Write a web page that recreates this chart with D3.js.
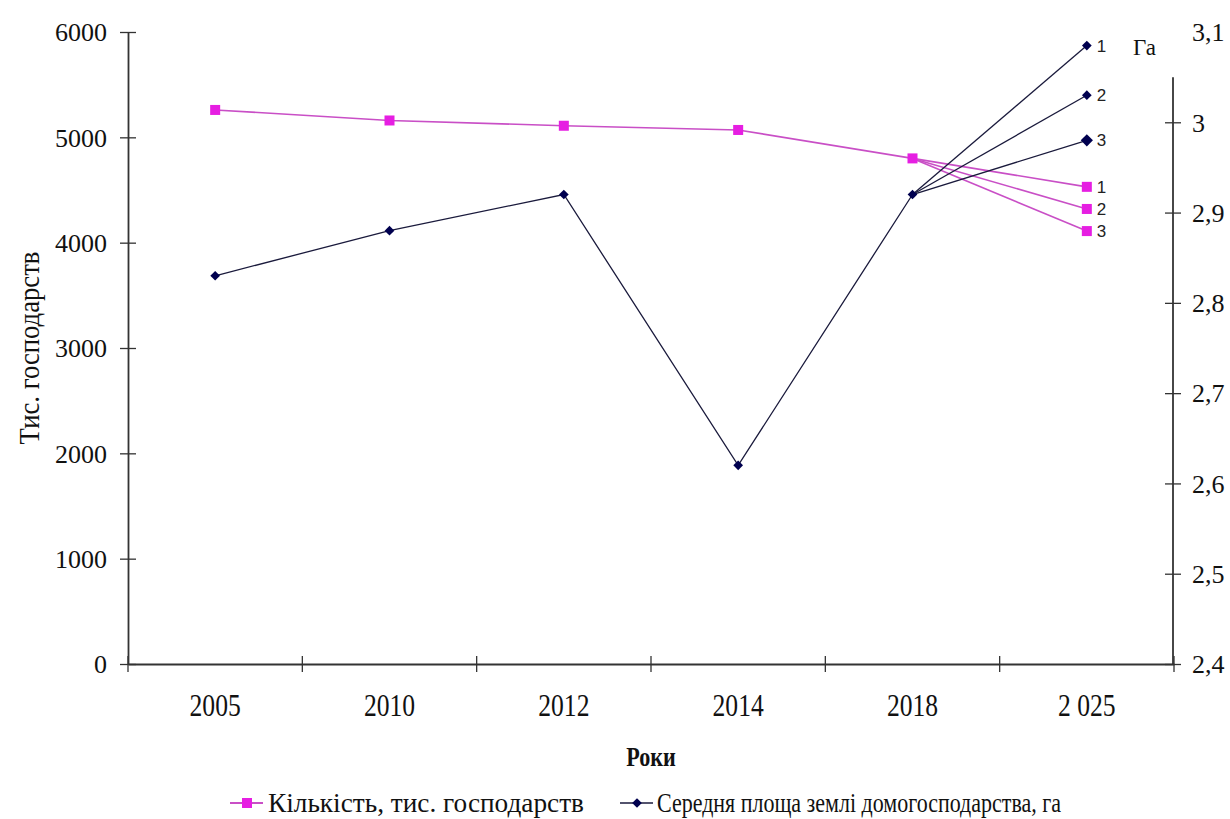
<!DOCTYPE html>
<html><head><meta charset="utf-8">
<script src="https://cdn.jsdelivr.net/npm/d3@7"></script>
<style>
body{margin:0;background:#fff;}
svg{display:block;}
</style></head>
<body>
<svg id="c" width="1230" height="819"></svg>
<script>
// ---- data ----
const years = ["2005","2010","2012","2014","2018","2 025"];
const households = [5260,5160,5110,5070,4800];          // 2005..2018, тис.
const households2025 = [4530,4320,4110];                // scenarios 1,2,3
const area = [2.83,2.88,2.92,2.62,2.92];                 // 2005..2018, га
const area2025 = [3.085,3.03,2.98];                      // scenarios 1,2,3
const scenarioLabels = ["1","2","3"];
const leftTicks = [0,1000,2000,3000,4000,5000,6000];
const rightTicks = [2.4,2.5,2.6,2.7,2.8,2.9,3.0,3.1];

const SERIF = '"Liberation Serif","Times New Roman",serif';
const SANS = '"Liberation Sans",Arial,sans-serif';
const svg = d3.select("#c");
const L = 128, R = 1174, T = 32, B = 664, RX = 1173;
const x = d3.scaleBand().domain(years).range([L,R]);
const cx = d => x(d) + x.bandwidth()/2;
const yL = d3.scaleLinear().domain([0,6000]).range([B,T]);
const yR = d3.scaleLinear().domain([2.4,3.1]).range([B,T]);

const pinkLine = "#c94fc6", pinkMark = "#e61ee2";
const navyLine = "#1a1a3c", navyMark = "#00004f";
const axisCol = "#333";

// x axis
const gx = svg.append("g").attr("transform",`translate(0,${B})`)
  .call(d3.axisBottom(x).tickSize(0).tickFormat(""));
gx.attr("font-family",null);
gx.select(".domain").attr("stroke",axisCol).attr("stroke-width",1.8);
const bounds = years.map(d=>x(d)).concat([R]);
gx.selectAll(".xt").data(bounds).enter().append("line")
  .attr("x1",d=>d).attr("x2",d=>d).attr("y1",-8).attr("y2",8)
  .attr("stroke",axisCol).attr("stroke-width",1.3);
gx.selectAll(".xl").data(years).enter().append("text")
  .attr("transform",d=>`translate(${cx(d)},52) scale(0.8,1)`)
  .attr("text-anchor","middle").style("font-family",SERIF).attr("font-size",32)
  .attr("fill","#111").text(d=>d);

// left axis
const gl = svg.append("g").attr("transform",`translate(${L},0)`)
  .call(d3.axisLeft(yL).tickValues(leftTicks).tickSize(0).tickFormat(d3.format("d")));
gl.attr("font-family",null);
gl.select(".domain").attr("stroke",axisCol).attr("stroke-width",1.8);
gl.selectAll(".tick line").attr("x1",-8).attr("x2",8).attr("stroke",axisCol).attr("stroke-width",1.3);
gl.selectAll(".tick text").attr("x",-21).attr("dy","0.34em").style("font-family",SERIF)
  .attr("font-size",26).attr("fill","#111");

// right axis
const gr = svg.append("g").attr("transform",`translate(${RX},0)`)
  .call(d3.axisRight(yR).tickValues(rightTicks).tickSize(0)
    .tickFormat(d => (Math.round(d*10)/10).toString().replace(".",",")));
gr.attr("font-family",null);
gr.select(".domain").attr("d",`M0,${yR(3.05)}V${B}`).attr("stroke",axisCol).attr("stroke-width",1.8);
gr.selectAll(".tick line").attr("x1",d=>d>3.05?0:-8).attr("x2",d=>d>3.05?0:8)
  .attr("stroke",axisCol).attr("stroke-width",1.3);
gr.selectAll(".tick text").attr("x",19).attr("dy","0.34em").style("font-family",SERIF)
  .attr("font-size",26).attr("fill","#111");

// titles
svg.append("text").attr("transform","translate(39,348) rotate(-90) scale(0.92,1)")
  .attr("text-anchor","middle").style("font-family",SERIF).attr("font-size",29)
  .attr("fill","#111").text("Тис. господарств");
svg.append("text").attr("transform",`translate(${(L+R)/2},757) scale(0.82,1)`).attr("dy","0.35em")
  .attr("text-anchor","middle").style("font-family",SERIF).attr("font-size",27).attr("font-weight","bold")
  .attr("fill","#111").text("Роки");
svg.append("text").attr("x",1133).attr("y",55).style("font-family",SERIF).attr("font-size",23)
  .attr("fill","#111").text("Га");

const main = years.slice(0,5);
const line = d3.line();

// pink series
svg.append("path").attr("fill","none").attr("stroke",pinkLine).attr("stroke-width",1.6)
  .attr("d",line(main.map((d,i)=>[cx(d),yL(households[i])])));
households2025.forEach(v=>{
  svg.append("path").attr("fill","none").attr("stroke",pinkLine).attr("stroke-width",1.6)
    .attr("d",line([[cx(main[4]),yL(households[4])],[cx(years[5]),yL(v)]]));
});
// navy series
svg.append("path").attr("fill","none").attr("stroke",navyLine).attr("stroke-width",1.3)
  .attr("d",line(main.map((d,i)=>[cx(d),yR(area[i])])));
area2025.forEach(v=>{
  svg.append("path").attr("fill","none").attr("stroke",navyLine).attr("stroke-width",1.3)
    .attr("d",line([[cx(main[4]),yR(area[4])],[cx(years[5]),yR(v)]]));
});

// markers
const sq = (g,xx,yy,c)=>g.append("rect").attr("x",xx-5).attr("y",yy-5).attr("width",10).attr("height",10).attr("fill",c);
const dia = (g,xx,yy,c,s)=>g.append("path").attr("d",d3.symbol(d3.symbolDiamond2,s||60)()).attr("transform",`translate(${xx},${yy})`).attr("fill",c);
main.forEach((d,i)=>{ sq(svg,cx(d),yL(households[i]),pinkMark); });
households2025.forEach(v=>sq(svg,cx(years[5]),yL(v),pinkMark));
main.forEach((d,i)=>{ dia(svg,cx(d),yR(area[i]),navyMark); });
area2025.forEach((v,i)=>dia(svg,cx(years[5]),yR(v),navyMark,i===2?95:60));

// scenario labels
const lab = (xx,yy,t)=>svg.append("text").attr("x",xx).attr("y",yy).attr("dy","0.36em")
  .style("font-family",SANS).attr("font-size",17).attr("fill","#222").text(t);
area2025.forEach((v,i)=>lab(cx(years[5])+10,yR(v),scenarioLabels[i]));
households2025.forEach((v,i)=>lab(cx(years[5])+10,yL(v),scenarioLabels[i]));

// legend
const lg = svg.append("g").attr("transform","translate(0,803)");
lg.append("line").attr("x1",230).attr("x2",263).attr("stroke",pinkLine).attr("stroke-width",1.8);
sq(lg,247,0,pinkMark);
lg.append("text").attr("x",268).attr("y",0).attr("dy","0.33em").style("font-family",SERIF)
  .attr("font-size",27).attr("textLength",316).attr("lengthAdjust","spacingAndGlyphs")
  .attr("fill","#111").text("Кількість, тис. господарств");
lg.append("line").attr("x1",620).attr("x2",653).attr("stroke",navyLine).attr("stroke-width",1.5);
dia(lg,637,0,navyMark);
lg.append("text").attr("x",657).attr("y",0).attr("dy","0.33em").style("font-family",SERIF)
  .attr("font-size",27).attr("textLength",404).attr("lengthAdjust","spacingAndGlyphs")
  .attr("fill","#111").text("Середня площа землі домогосподарства, га");
</script>
</body></html>
